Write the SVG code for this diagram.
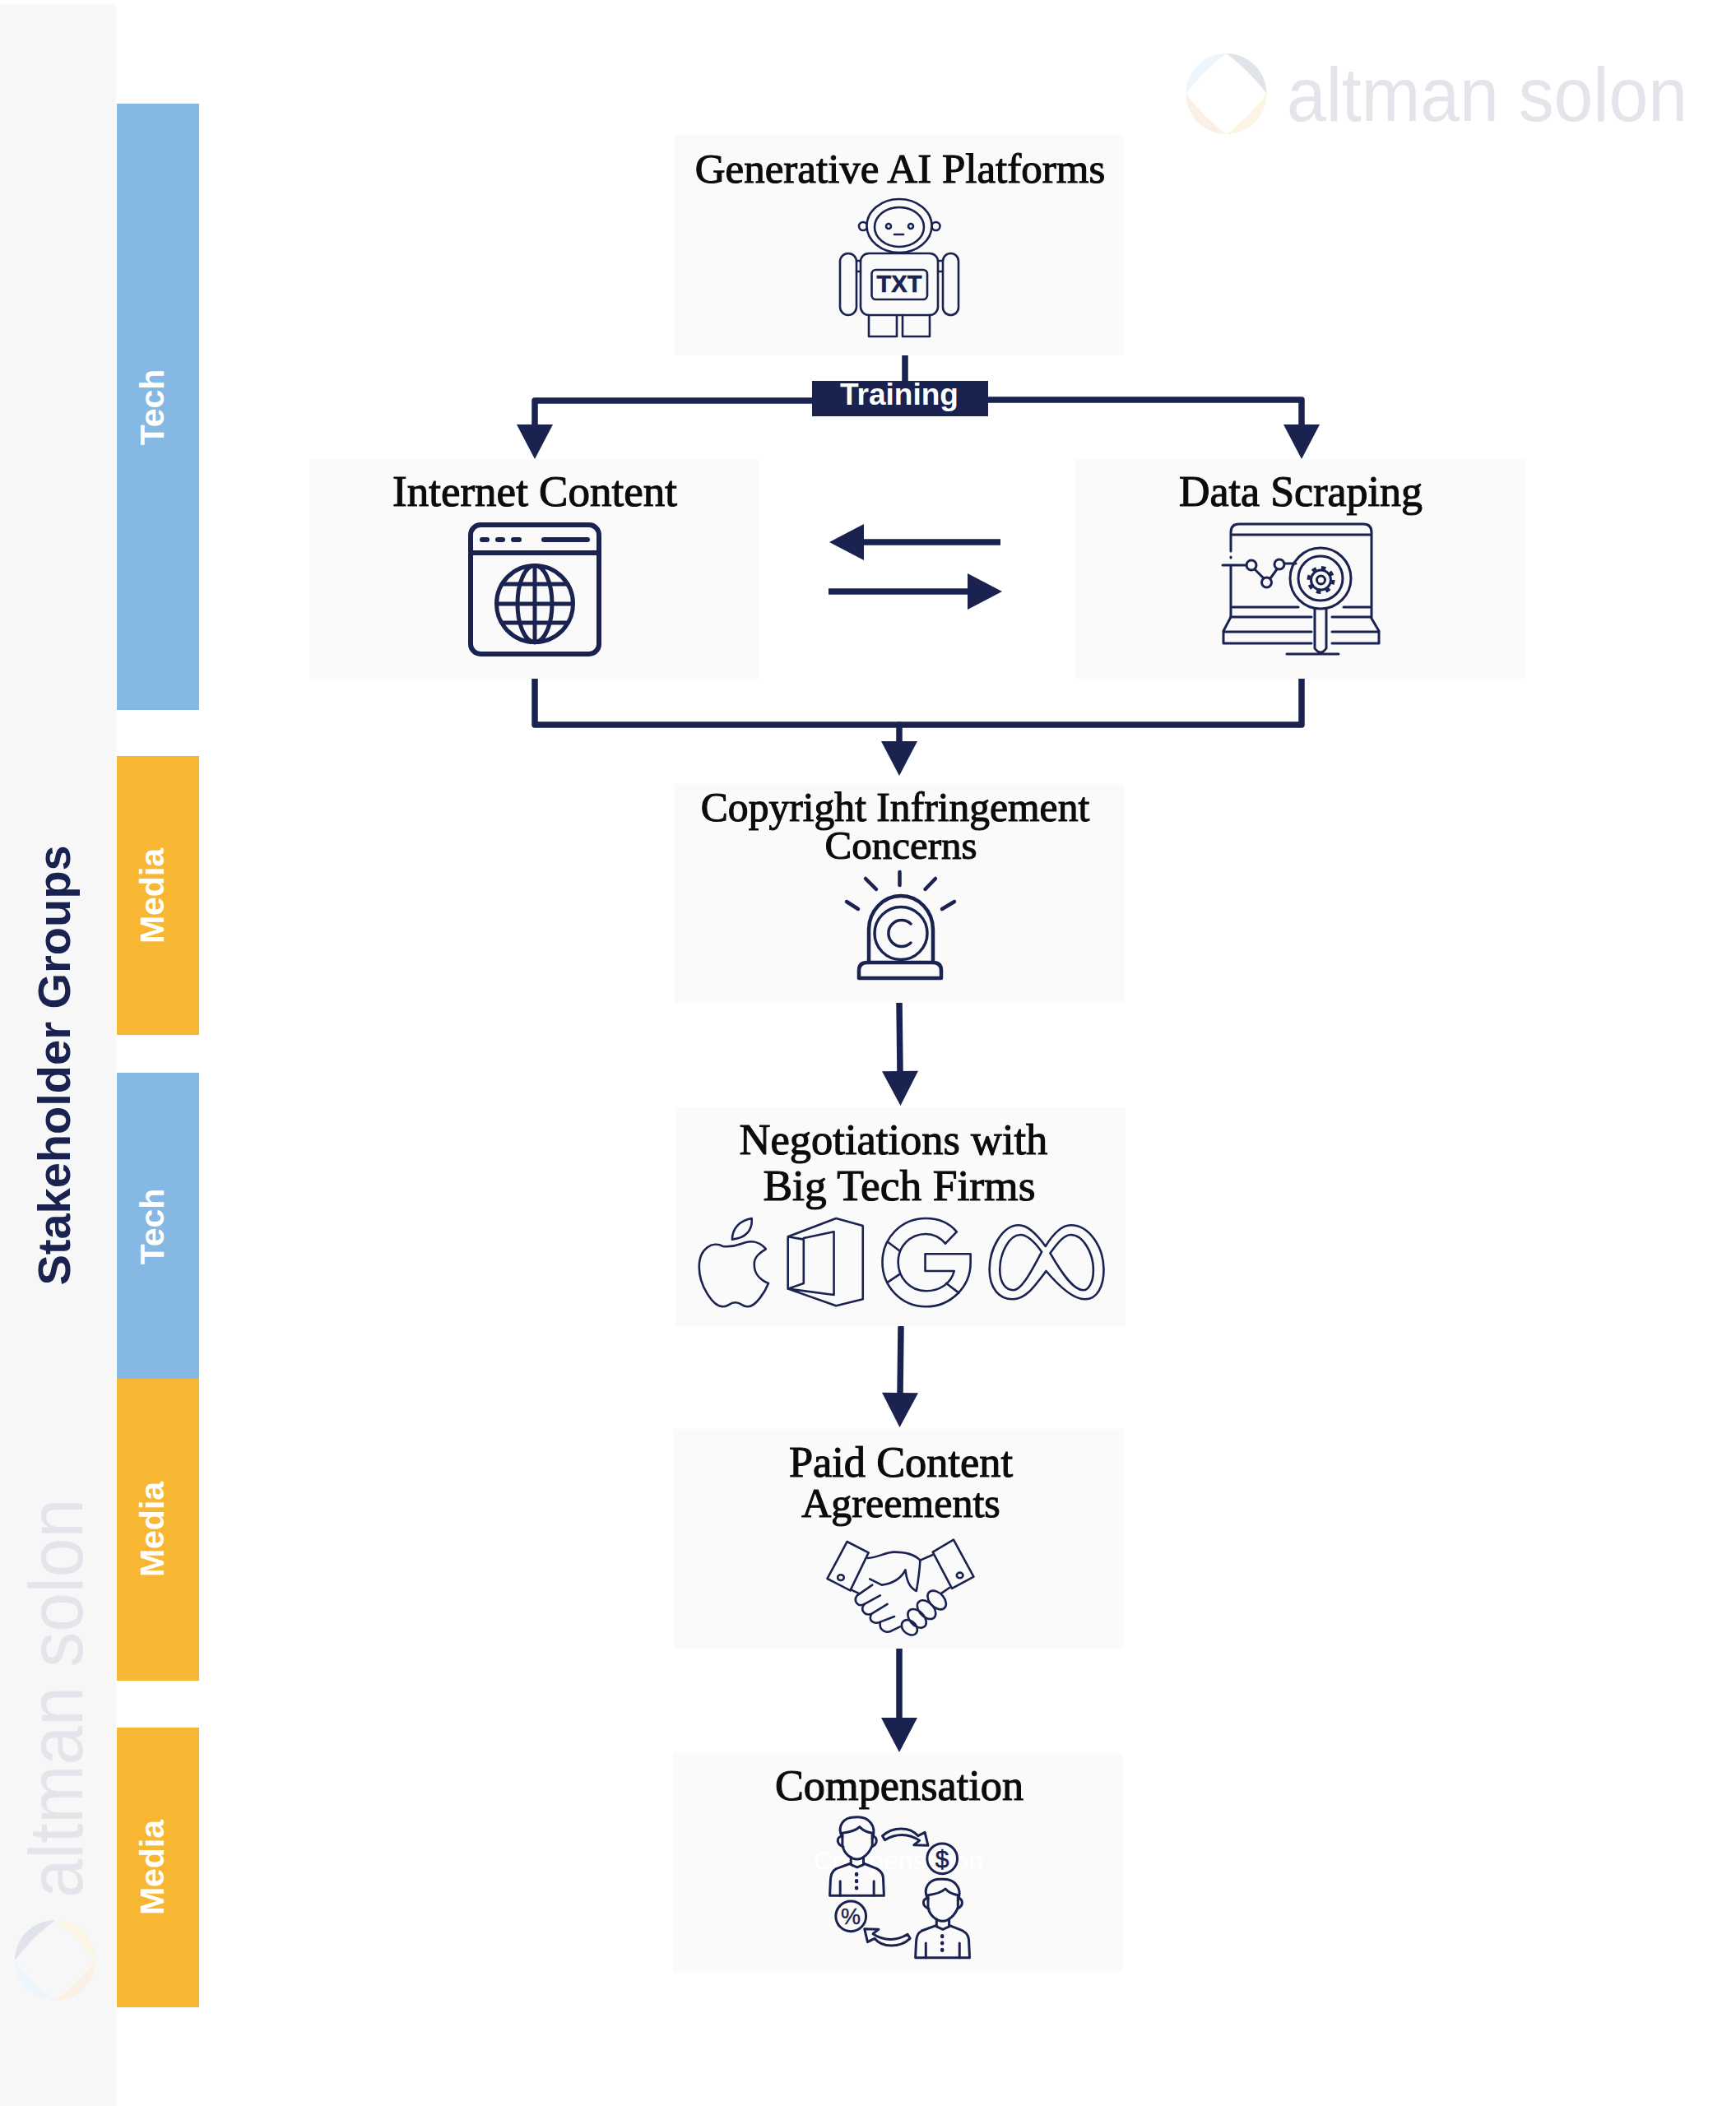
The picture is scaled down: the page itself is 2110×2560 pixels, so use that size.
<svg xmlns="http://www.w3.org/2000/svg" xmlns:xlink="http://www.w3.org/1999/xlink" width="2110" height="2560" viewBox="0 0 2110 2560">
<style>
.panel{fill:#fafafb}
.bar-m{fill:#f8b733}.bar-t{fill:#85b9e3}
.sans{font-family:"Liberation Sans",Arial,sans-serif;font-weight:700}
.tag{fill:#fff;font-size:41px;text-anchor:middle}
.title{font-family:"Liberation Serif","Times New Roman",serif;fill:#0b0b0b;stroke:#0b0b0b;stroke-width:1.1px;text-anchor:middle}
.wm{font-family:"Liberation Sans",Arial,sans-serif;font-weight:400;font-size:92px;fill:#e3e5eb}
.conn{fill:none;stroke:#1a2250;stroke-width:7.5;stroke-linecap:round;stroke-linejoin:round}
.st{fill:none;stroke:#1a2250;stroke-width:3;stroke-linecap:round;stroke-linejoin:round}
.st *,.ns,.ns *{vector-effect:non-scaling-stroke}
.navy{fill:#1a2250}
</style>
<defs>
<marker id="ah" markerUnits="userSpaceOnUse" markerWidth="44" markerHeight="44" viewBox="0 0 42 44" refX="1" refY="22" orient="auto"><path d="M0,0L42,22L0,44Z" fill="#1a2250"/></marker>
<g id="logo">
<path d="M0,-49A49,49 0 0 1 49,0Q28,-28 0,-49Z" fill="#e1e3ea"/>
<path d="M0,-49A49,49 0 0 0 -49,0Q-28,-28 0,-49Z" fill="#eef5fb"/>
<path d="M0,49A49,49 0 0 1 -49,0Q-28,28 0,49Z" fill="#fbf0e6"/>
<path d="M0,49A49,49 0 0 0 49,0Q28,28 0,49Z" fill="#fdf5e3"/>
</g>
<g id="person" class="ns">
<path d="M585,340C565,300 590,265 625,267C670,262 695,300 680,345"/>
<path d="M585,325C605,322 628,315 640,302C650,315 665,322 680,325V370C670,400 650,420 632,420C612,420 590,400 585,370Z"/>
<path d="M585,335C565,340 565,365 588,375M680,335C698,340 698,365 678,375"/>
<path d="M612,412V440L632,450L652,440V412"/>
<path d="M612,435L565,455C550,465 548,480 547,500L545,553H717L715,500C715,475 710,465 695,455L652,435"/>
<path d="M578,500V553M685,500V553"/>
<path d="M630,474V476M630,499V501M630,524V526" stroke-width="4.500"/>
</g>
<path id="curve" class="ns" d="M712,335C745,300 800,300 825,335L847,322L857,370L812,368L830,352C795,325 755,325 720,350Z"/>
</defs>
<rect width="2110" height="2560" fill="#fff"/>

<g id="sidebar">
<rect x="0" y="5" width="141" height="2555" fill="#f7f7f8"/>
<text class="sans" transform="translate(85,1295) rotate(-90)" font-size="56" fill="#1a2250" text-anchor="middle">Stakeholder Groups</text>
<text class="wm" transform="translate(100,2307) rotate(-90)" textLength="485" lengthAdjust="spacingAndGlyphs">altman solon</text>
<use xlink:href="#logo" href="#logo" transform="translate(67,2383) rotate(-90)"/>
</g>
<g id="watermark-top">
<use xlink:href="#logo" href="#logo" transform="translate(1490.5,114)"/>
<text class="wm" x="1564" y="147" textLength="487" lengthAdjust="spacingAndGlyphs">altman solon</text>
</g>

<g id="bar-tech-1"><rect class="bar-t" x="142" y="126" width="100" height="737"/><text class="sans tag" transform="translate(199,495) rotate(-90)">Tech</text></g>
<g id="bar-media-1"><rect class="bar-m" x="142" y="919" width="100" height="339"/><text class="sans tag" transform="translate(199,1089) rotate(-90)">Media</text></g>
<g id="bar-tech-2"><rect class="bar-t" x="142" y="1304" width="100" height="372"/><text class="sans tag" transform="translate(199,1491) rotate(-90)">Tech</text></g>
<g id="bar-media-2"><rect class="bar-m" x="142" y="1676" width="100" height="367"/><text class="sans tag" transform="translate(199,1859) rotate(-90)">Media</text></g>
<g id="bar-media-3"><rect class="bar-m" x="142" y="2100" width="100" height="340"/><text class="sans tag" transform="translate(199,2270) rotate(-90)">Media</text></g>

<g id="connectors">
<path class="conn" d="M1100,431V463"/>
<path class="conn" d="M990,487H650V517" marker-end="url(#ah)"/>
<path class="conn" d="M1200,486H1582V517" marker-end="url(#ah)"/>
<path class="conn" d="M650,823V881H1582V823"/>
<path class="conn" d="M1093,881V902" marker-end="url(#ah)"/>
<path class="conn" d="M1093,1219L1094,1303" marker-end="url(#ah)"/>
<path class="conn" d="M1095,1614L1094,1694" marker-end="url(#ah)"/>
<path class="conn" d="M1093,2004V2089" marker-end="url(#ah)"/>
<path class="conn" style="stroke-linecap:butt" d="M1216,659H1049" marker-end="url(#ah)"/>
<path class="conn" style="stroke-linecap:butt" d="M1007,719H1177" marker-end="url(#ah)"/>
</g>

<g id="node-training">
<rect class="navy" x="987" y="463" width="214" height="43"/>
<text class="sans" x="1093" y="492" font-size="37" fill="#fff" text-anchor="middle">Training</text>
</g>

<g id="node-generative">
<rect class="panel" x="820" y="164" width="546" height="268"/>
<text class="title" x="1094" y="222" font-size="51">Generative AI Platforms</text>
<g class="st" style="stroke-width:2.6">
<circle cx="1049" cy="275" r="5"/><circle cx="1137.5" cy="275" r="5"/>
<ellipse cx="1093" cy="274.5" rx="39.5" ry="32.5" fill="#fafafb"/>
<ellipse cx="1093" cy="276" rx="30" ry="24"/>
<circle cx="1080" cy="275" r="3"/><circle cx="1107" cy="275" r="3"/>
<path d="M1087,285H1098"/>
<rect x="1046" y="308" width="94" height="75" rx="10"/>
<rect x="1021" y="308" width="20" height="75" rx="10"/>
<rect x="1146" y="308" width="19" height="75" rx="9.5"/>
<path d="M1041,317H1046M1041,330H1046M1140,317H1146M1140,330H1146"/>
<rect x="1059.5" y="328" width="67.5" height="36" rx="5"/>
<path d="M1056,383V409H1090V383M1097,383V409H1130V383"/>
</g>
<text class="sans" x="1093" y="355" font-size="29" fill="#1a2250" stroke="#1a2250" stroke-width=".6" text-anchor="middle">TXT</text>
</g>

<g id="node-internet">
<rect class="panel" x="376" y="558" width="547" height="267"/>
<text class="title" x="650" y="615" font-size="53">Internet Content</text>
<g class="st" style="stroke-width:6">
<rect x="572" y="638" width="156" height="157" rx="12"/>
<path d="M572,672H728M586,656H592M605,656H611M624,656H631M661,656H714"/>
<g style="stroke-width:5">
<circle cx="650" cy="734" r="46.5"/>
<ellipse cx="650" cy="734" rx="21" ry="46.5"/>
<path d="M650,688V781M610,710H690M604,734H696M610,757H690"/>
</g></g>
</g>

<g id="node-scraping">
<rect class="panel" x="1307" y="558" width="547" height="267"/>
<text class="title" x="1581" y="615" font-size="52">Data Scraping</text>
<g class="st">
<path d="M1496,670V647Q1496,637 1506,637H1657Q1667,637 1667,647V750M1496,650H1667M1496,677V678M1496,687V750"/>
<path d="M1486,687H1515M1525,692L1536,703M1544,703L1552,692M1561,685H1575"/>
<circle cx="1521" cy="687" r="6"/><circle cx="1539.5" cy="708" r="6"/><circle cx="1555" cy="686" r="6"/>
<circle cx="1605" cy="703" r="37"/><circle cx="1605" cy="703" r="27"/>
<circle cx="1605.5" cy="705" r="12"/><circle cx="1605.5" cy="705" r="5"/>
<circle cx="1605.5" cy="705" r="15" style="stroke-width:4;stroke-linecap:butt" stroke-dasharray="5.5 6.28"/>
<path d="M1598,740V788Q1605,798 1612,788V740M1564,795H1627"/>
<path d="M1498,738H1578M1633,738H1665M1498,750H1594M1619,750H1665"/>
<path d="M1496,750L1487,767V782H1594M1487,768H1594M1666,750L1676,767V782H1619M1619,768H1676"/>
</g>
</g>

<g id="node-copyright">
<rect class="panel" x="820" y="953" width="547" height="266"/>
<text class="title" x="1088" y="998" font-size="49.6">Copyright Infringement</text>
<text class="title" x="1095" y="1044" font-size="49">Concerns</text>
<g class="st" style="stroke-width:4.5">
<path d="M1093.5,1060V1076M1052,1068L1065,1081M1137,1068L1124.5,1081M1029,1096L1043,1105M1160,1096L1145,1105"/>
<path d="M1056,1170V1130A39,41 0 0 1 1134,1130V1170"/>
<circle cx="1095" cy="1134.500" r="32" style="stroke-width:3.5"/>
<path d="M1107,1123A16,16 0 1 0 1107,1146" style="stroke-width:3.5"/>
<path d="M1044,1189V1180Q1044,1170 1054,1170H1134Q1144,1170 1144,1180V1189Z"/>
</g>
</g>

<g id="node-negotiations">
<rect class="panel" x="821" y="1346" width="547" height="266"/>
<text class="title" x="1086" y="1403" font-size="52.500">Negotiations with</text>
<text class="title" x="1093" y="1459" font-size="53.500">Big Tech Firms</text>
<g class="st" transform="translate(800,1340) scale(.3827,.3333)" style="stroke-width:2.6">
<path id="apple" d="M205,525C175,505 130,530 130,600C130,670 175,745 205,745C225,745 225,730 245,730C265,730 265,745 285,745C310,745 340,690 350,660C320,645 305,625 305,590C305,565 320,550 342,535C325,510 300,505 280,510C260,515 245,530 205,525ZM235,500C235,460 260,430 297,423C300,465 280,495 235,500Z"/>
<path id="office" d="M412,490L565,423L650,450V718L565,742L412,680ZM412,490L462,500V660L412,680M462,495L558,472V702L412,680"/>
<path id="google" d="M948,472C925,440 890,423 850,423C772,423 712,495 712,583C712,672 772,745 850,745C930,745 992,672 992,585V553H848V615H940C930,660 895,688 850,688C800,688 762,640 762,583C762,525 800,480 850,480C875,480 895,492 912,515ZM730,510L765,540M730,655L765,628M915,660L955,695"/>
<path id="meta" d="M1230,525C1195,470 1170,448 1145,448C1095,448 1052,530 1052,610C1052,680 1085,718 1125,718C1165,718 1190,680 1232,615C1280,680 1320,718 1355,718C1395,718 1415,670 1415,610C1415,530 1370,448 1310,448C1285,448 1260,470 1230,525ZM1218,545C1190,500 1170,483 1150,483C1115,483 1085,550 1085,610C1085,660 1105,685 1128,685C1150,685 1175,640 1218,545ZM1245,550C1270,510 1290,483 1310,483C1350,483 1382,550 1382,612C1382,660 1365,685 1350,685C1320,685 1285,630 1245,550Z"/>
</g>
</g>

<g id="node-paid">
<rect class="panel" x="819" y="1737" width="547" height="267"/>
<text class="title" x="1095" y="1795" font-size="52.400">Paid Content</text>
<text class="title" x="1095" y="1844" font-size="50">Agreements</text>
<g class="st" transform="translate(800,1730) scale(.3827,.3333)" style="stroke-width:2.6">
<path d="M600,432L668,472L610,610L537,567Z"/><circle cx="580" cy="563" r="10"/>
<path d="M938,425L1002,560L933,603L872,470Z"/><circle cx="958" cy="555" r="10"/>
<path d="M666,492C700,490 720,470 750,470C790,470 815,480 832,500L872,480"/>
<path d="M832,500C830,540 825,580 820,612C800,600 790,580 785,535C770,570 740,585 710,590L672,568"/>
<path d="M612,607L640,622M680,590L632,628C618,650 635,672 655,660L705,628"/>
<path d="M655,660C640,680 655,705 678,695L728,660M678,695C665,720 685,735 705,725L750,705M705,725C700,755 725,770 745,755L768,742"/>
<ellipse cx="885" cy="645" rx="24" ry="38" transform="rotate(-35 885 645)"/>
<ellipse cx="852" cy="680" rx="24" ry="38" transform="rotate(-35 852 680)"/>
<ellipse cx="822" cy="712" rx="24" ry="38" transform="rotate(-35 822 712)"/>
<ellipse cx="798" cy="745" rx="22" ry="30" transform="rotate(-35 798 745)"/>
<path d="M900,620L925,600"/>
</g>
</g>

<g id="node-compensation">
<rect class="panel" x="818" y="2131" width="547" height="266"/>
<text class="title" x="1093" y="2188" font-size="52.300">Compensation</text>
<text class="sans" x="1092" y="2273" font-size="32" fill="#fff" style="font-weight:400" text-anchor="middle">Compensation</text>
<g class="st" transform="translate(800,2120) scale(.3827,.3333)">
<use xlink:href="#person" href="#person"/>
<use xlink:href="#person" href="#person" transform="translate(272,226)"/>
<use xlink:href="#curve" href="#curve"/>
<use xlink:href="#curve" href="#curve" transform="rotate(180 756 522)"/>
<ellipse cx="902" cy="418" rx="48" ry="55"/>
<ellipse cx="612" cy="628" rx="48" ry="55"/>
</g>
<text class="sans" x="1145" y="2270" font-size="30" fill="#1a2250" style="font-weight:400" stroke="#1a2250" stroke-width=".6" text-anchor="middle">$</text>
<text class="sans" x="1034" y="2339" font-size="27" fill="#1a2250" style="font-weight:400" stroke="#1a2250" stroke-width=".4" text-anchor="middle">%</text>
</g>
</svg>
